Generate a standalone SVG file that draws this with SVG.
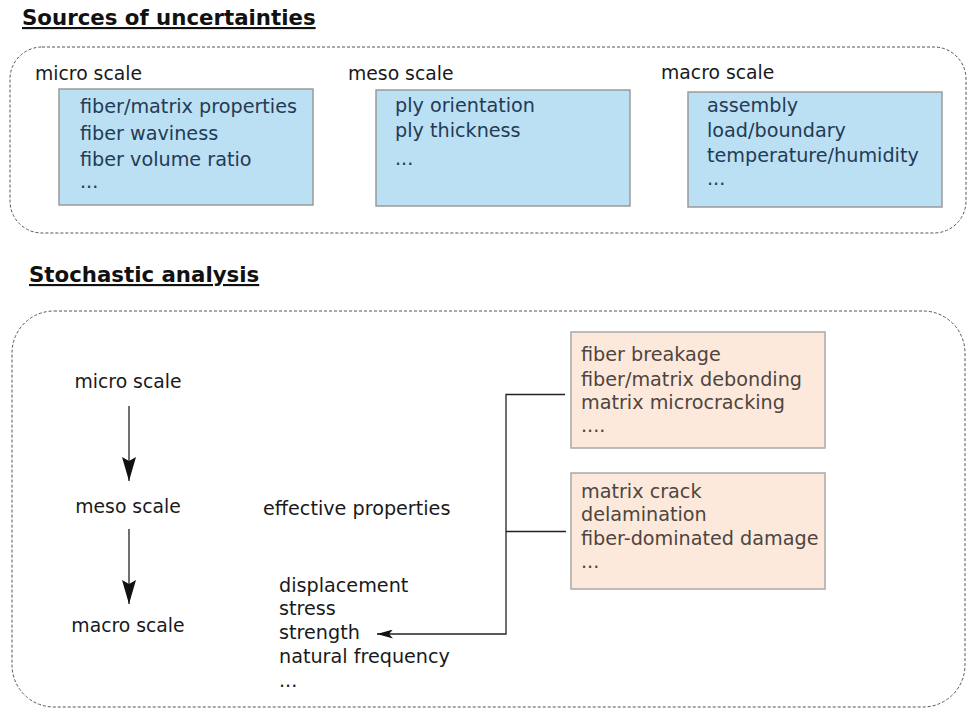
<svg xmlns="http://www.w3.org/2000/svg" width="968" height="708" viewBox="0 0 968 708">
<defs>
<style>
text{font-family:"DejaVu Sans","Verdana",sans-serif;font-size:19.2px;fill:#1a1a1a}
.lbl{font-size:18.8px}
.title{font-weight:bold;font-size:21.3px;text-decoration:underline;fill:#111}
.frame{fill:none;stroke:#555;stroke-width:1;stroke-dasharray:3 2}
.blue rect{fill:#bbdff3;stroke:#9a9a9a;stroke-width:1.5}
.blue text{fill:#233b55}
.orange rect{fill:#fde9dc;stroke:#a8a8a8;stroke-width:1.5}
.orange text{fill:#4d4540}
.conn{fill:none;stroke:#222;stroke-width:1.3}
</style>
<marker id="big" markerUnits="userSpaceOnUse" markerWidth="24" markerHeight="14" viewBox="0 0 24 14" refX="24" refY="7" orient="auto">
<path d="M0,0 L24,7 L0,14 L4,7 Z" fill="#111"/>
</marker>
<marker id="small" markerUnits="userSpaceOnUse" markerWidth="16" markerHeight="9" viewBox="0 0 16 9" refX="16" refY="4.5" orient="auto">
<path d="M0,0 L16,4.5 L0,9 L4,4.5 Z" fill="#111"/>
</marker>
</defs>
<rect width="968" height="708" fill="#fff"/>

<text class="title" x="22" y="25">Sources of uncertainties</text>
<rect class="frame" x="10" y="47" width="956" height="186" rx="32"/>

<g id="micro-src">
<text class="lbl" x="35" y="80">micro scale</text>
<g class="blue">
<rect x="59" y="89" width="254" height="116"/>
<text x="80" y="113">fiber/matrix properties</text>
<text x="80" y="140">fiber waviness</text>
<text x="80" y="166">fiber volume ratio</text>
<text x="80" y="188">...</text>
</g>
</g>
<g id="meso-src">
<text class="lbl" x="348" y="80">meso scale</text>
<g class="blue">
<rect x="376" y="90" width="254" height="116"/>
<text x="395" y="112">ply orientation</text>
<text x="395" y="137">ply thickness</text>
<text x="395" y="165">...</text>
</g>
</g>
<g id="macro-src">
<text class="lbl" x="661" y="79">macro scale</text>
<g class="blue">
<rect x="688" y="92" width="254" height="115"/>
<text x="707" y="112">assembly</text>
<text x="707" y="137">load/boundary</text>
<text x="707" y="162">temperature/humidity</text>
<text x="707" y="185">...</text>
</g>
</g>

<text class="title" x="29" y="282">Stochastic analysis</text>
<rect class="frame" x="12" y="311" width="953" height="396" rx="42"/>

<g id="micro"><text class="lbl" x="128" y="388" text-anchor="middle">micro scale</text></g>
<g id="meso"><text class="lbl" x="128" y="513" text-anchor="middle">meso scale</text></g>
<g id="macro"><text class="lbl" x="128" y="632" text-anchor="middle">macro scale</text></g>
<g id="effective"><text x="263" y="515">effective properties</text></g>
<g id="responses">
<text x="279" y="592">displacement</text>
<text x="279" y="615">stress</text>
<text x="279" y="639">strength</text>
<text x="279" y="663">natural frequency</text>
<text x="279" y="687">...</text>
</g>
<g id="damage-micro" class="orange">
<rect x="571" y="332" width="254" height="116"/>
<text x="581" y="361">fiber breakage</text>
<text x="581" y="386">fiber/matrix debonding</text>
<text x="581" y="409">matrix microcracking</text>
<text x="581" y="432">....</text>
</g>
<g id="damage-macro" class="orange">
<rect x="571" y="473" width="254" height="116"/>
<text x="581" y="498">matrix crack</text>
<text x="581" y="521">delamination</text>
<text x="581" y="545">fiber-dominated damage</text>
<text x="581" y="568">...</text>
</g>

<g id="connectors">
<line class="conn" x1="129" y1="406" x2="129" y2="481" marker-end="url(#big)"/>
<line class="conn" x1="129" y1="529" x2="129" y2="604" marker-end="url(#big)"/>
<path class="conn" d="M565,394.5 H506 V634 H377" marker-end="url(#small)"/>
<line class="conn" x1="506" y1="531.5" x2="566" y2="531.5"/>
</g>
</svg>
